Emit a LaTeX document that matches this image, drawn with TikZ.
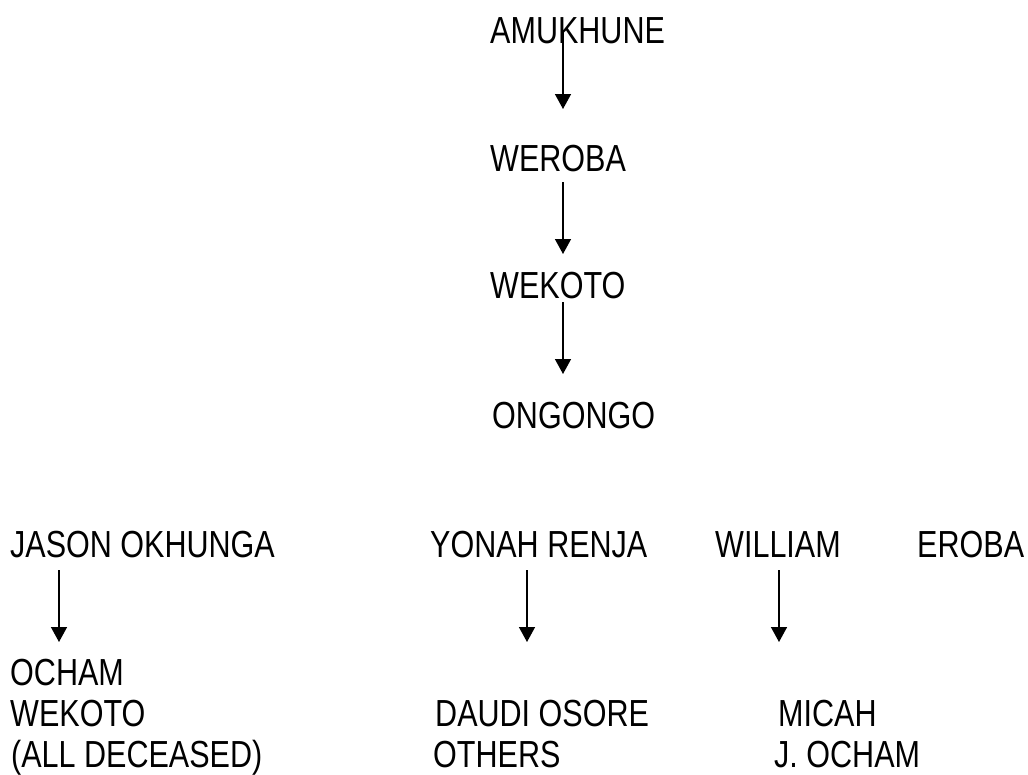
\documentclass[tikz,border=0pt]{standalone}
\usepackage{fontspec}
\setmainfont{Liberation Sans}[FakeStretch=0.81]
\usetikzlibrary{arrows.meta}
\begin{document}
\begin{tikzpicture}[x=1pt,y=-1pt,
  lbl/.style={anchor=base west,inner sep=0pt,font=\fontsize{37.7}{43}\selectfont},
  arr/.style={line width=1.5pt,-{Triangle[width=16pt,length=15pt]}}]
\useasboundingbox (0,0) rectangle (1028,774);
% main line
\node[lbl] (amuk) at (490,43) {AMUKHUNE};
\node[lbl] (wer) at (490,171) {WEROBA};
\node[lbl] (wek) at (490,298) {WEKOTO};
\node[lbl] (ong) at (492,428) {ONGONGO};
% children
\node[lbl] (jason) at (10,557) {JASON OKHUNGA};
\node[lbl] (yonah) at (430,557) {YONAH RENJA};
\node[lbl] (william) at (715,557) {WILLIAM};
\node[lbl] (eroba) at (917,557) {EROBA};
% grandchildren
\node[lbl] (ocham) at (10,685) {OCHAM};
\node[lbl] (wek2) at (10,726) {WEKOTO};
\node[lbl] (dec) at (11,767) {(ALL DECEASED)};
\node[lbl] (daudi) at (435,726) {DAUDI OSORE};
\node[lbl] (others) at (433,767) {OTHERS};
\node[lbl] (micah) at (778,726) {MICAH};
\node[lbl] (jocham) at (774,767) {J. OCHAM};
% arrow end points
\coordinate (a1s) at (563,30);  \coordinate (a1e) at (563,109);
\coordinate (a2s) at (563,182); \coordinate (a2e) at (563,254);
\coordinate (a3s) at (563,302); \coordinate (a3e) at (563,374);
\coordinate (b1s) at (59,570);  \coordinate (b1e) at (59,642);
\coordinate (b2s) at (527,570); \coordinate (b2e) at (527,642);
\coordinate (b3s) at (779,570); \coordinate (b3e) at (779,642);
\draw[arr] (a1s) -- (a1e);
\draw[arr] (a2s) -- (a2e);
\draw[arr] (a3s) -- (a3e);
\draw[arr] (b1s) -- (b1e);
\draw[arr] (b2s) -- (b2e);
\draw[arr] (b3s) -- (b3e);
\end{tikzpicture}
\end{document}
